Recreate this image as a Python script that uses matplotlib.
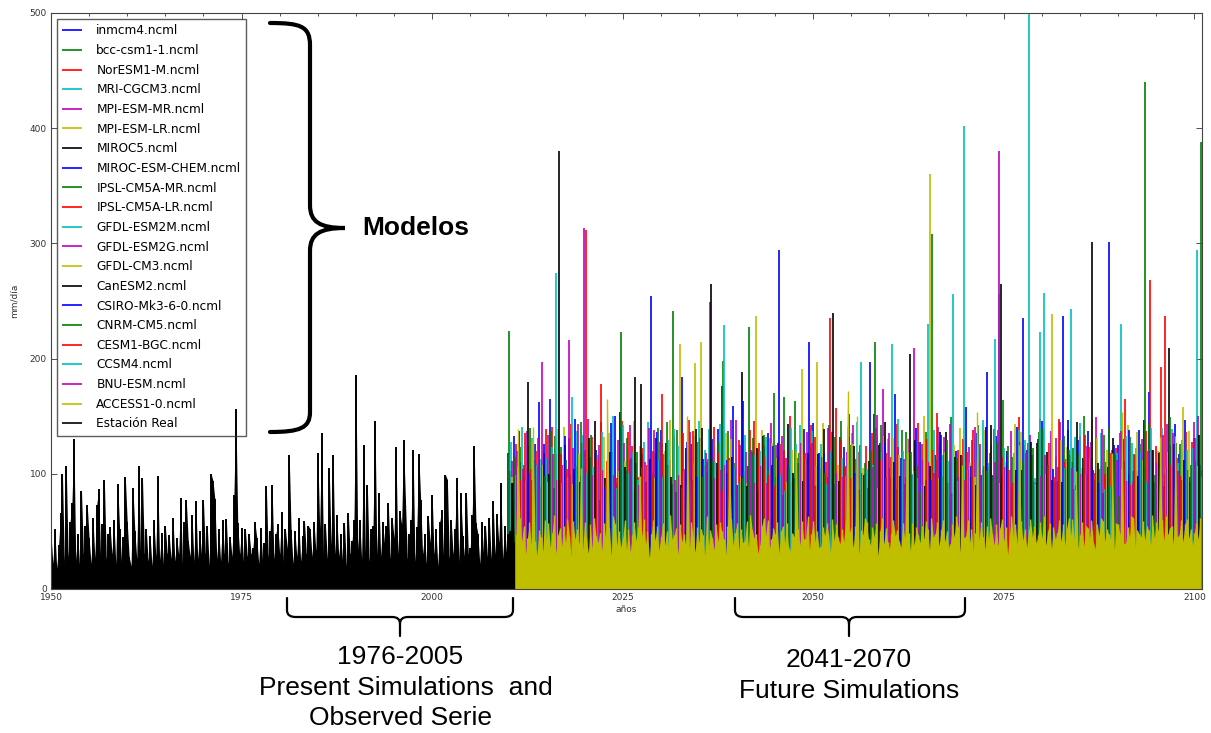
import matplotlib
matplotlib.use("Agg")
import matplotlib.pyplot as plt
from matplotlib.path import Path
from matplotlib.patches import PathPatch
from matplotlib.ticker import MultipleLocator

# model names in legend order, classic bgrcmyk colour cycle
model_names = ["inmcm4.ncml", "bcc-csm1-1.ncml", "NorESM1-M.ncml", "MRI-CGCM3.ncml",
               "MPI-ESM-MR.ncml", "MPI-ESM-LR.ncml", "MIROC5.ncml", "MIROC-ESM-CHEM.ncml",
               "IPSL-CM5A-MR.ncml", "IPSL-CM5A-LR.ncml", "GFDL-ESM2M.ncml", "GFDL-ESM2G.ncml",
               "GFDL-CM3.ncml", "CanESM2.ncml", "CSIRO-Mk3-6-0.ncml", "CNRM-CM5.ncml",
               "CESM1-BGC.ncml", "CCSM4.ncml", "BNU-ESM.ncml", "ACCESS1-0.ncml"]
model_colors = ["b", "g", "r", "c", "m", "y", "k"] * 3

# model peaks (mm/dia), one value every 2 years from 2010 to 2100
inmcm4 = [118, 96, 162, 88, 131, 104, 77, 150, 112, 93, 138, 84, 126, 101, 176, 90, 119, 135, 82, 109, 144, 97, 123,
          86, 152, 105, 91, 128, 116, 79, 158, 99, 133, 87, 121, 146, 94, 110, 137, 83, 125, 102, 171, 89, 117, 131]
bcc_csm1_1 = [224, 108, 87, 133, 99, 121, 145, 92, 114, 80, 127, 138, 95, 110, 198, 86, 131, 103, 167, 118, 90, 142, 107,
              125, 214, 97, 136, 84, 112, 149, 101, 93, 128, 115, 88, 139, 106, 122, 95, 134, 81, 117, 143, 100, 126, 111]
noresm1_m = [102, 135, 89, 117, 143, 312, 178, 96, 124, 108, 169, 91, 137, 113, 85, 129, 146, 99, 121, 94, 132, 235, 106,
             88, 140, 115, 97, 126, 153, 83, 119, 104, 138, 92, 127, 111, 148, 87, 123, 100, 135, 116, 268, 237, 98, 131]
mri_cgcm3 = [128, 94, 113, 274, 167, 101, 136, 88, 119, 145, 97, 124, 109, 139, 229, 92, 116, 131, 85, 142, 107, 120, 98,
             197, 134, 213, 111, 90, 126, 256, 103, 147, 256, 118, 520, 257, 95, 132, 114, 87, 230, 122, 140, 106, 129, 294]
mpi_esm_mr = [111, 137, 197, 95, 122, 148, 103, 129, 86, 140, 117, 99, 133, 249, 108, 125, 92, 144, 114, 127, 89, 136, 119,
              101, 151, 96, 130, 112, 141, 93, 123, 107, 380, 98, 134, 116, 145, 90, 128, 110, 137, 102, 121, 143, 95, 150]
mpi_esm_lr = [97, 124, 108, 139, 91, 115, 132, 102, 146, 87, 120, 213, 196, 110, 135, 98, 237, 127, 93, 191, 197, 114, 141,
              105, 88, 131, 118, 150, 96, 125, 109, 138, 92, 143, 113, 100, 129, 86, 147, 121, 104, 136, 95, 119, 158, 107]
miroc5 = [92, 180, 118, 380, 104, 131, 96, 154, 184, 113, 127, 90, 139, 265, 101, 188, 122, 108, 143, 94, 117, 240, 132,
          99, 125, 110, 204, 89, 136, 115, 97, 141, 265, 103, 128, 119, 93, 145, 301, 106, 130, 98, 121, 209, 112, 134]
miroc_esm_chem = [133, 101, 126, 94, 148, 115, 88, 137, 109, 254, 121, 184, 97, 130, 112, 163, 86, 124, 105, 139, 118, 91,
                  152, 100, 127, 169, 113, 95, 134, 120, 107, 188, 99, 141, 116, 90, 237, 129, 103, 301, 111, 138, 92, 125, 147, 108]
ipsl_cm5a_mr = [115, 140, 98, 123, 107, 134, 92, 223, 119, 101, 145, 88, 128, 111, 137, 96, 121, 170, 104, 116, 93, 132,
                125, 109, 142, 87, 119, 136, 98, 114, 129, 102, 164, 91, 122, 108, 133, 117, 95, 140, 106, 126, 99, 149, 113, 388]
ipsl_cm5a_lr = [126, 104, 139, 117, 90, 132, 111, 146, 97, 120, 108, 135, 93, 141, 114, 102, 127, 89, 150, 118, 105, 157,
                96, 124, 112, 143, 99, 130, 87, 121, 138, 106, 115, 149, 94, 127, 110, 133, 101, 118, 165, 92, 124, 108, 136, 103]
gfdl_esm2m = [99, 131, 114, 92, 137, 106, 123, 142, 95, 118, 129, 101, 146, 110, 88, 134, 120, 97, 140, 113, 126, 91, 135,
              104, 119, 148, 100, 230, 116, 94, 131, 109, 122, 138, 96, 127, 105, 144, 112, 89, 133, 118, 102, 139, 121, 97]
gfdl_esm2g = [120, 95, 134, 108, 143, 99, 116, 127, 90, 138, 112, 104, 131, 96, 147, 119, 107, 125, 93, 136, 115, 101, 142,
              88, 174, 123, 209, 110, 132, 97, 141, 118, 106, 128, 92, 137, 113, 100, 149, 121, 94, 130, 109, 135, 103, 126]
gfdl_cm3 = [106, 128, 93, 141, 117, 100, 135, 111, 124, 96, 147, 119, 214, 103, 130, 92, 138, 114, 121, 99, 144, 108, 126,
            95, 133, 116, 102, 360, 119, 140, 97, 125, 110, 136, 91, 239, 123, 105, 131, 98, 142, 112, 120, 94, 137, 115]
canesm2 = [137, 112, 100, 125, 93, 146, 119, 106, 178, 131, 97, 122, 140, 109, 115, 89, 133, 127, 101, 118, 139, 94, 124,
           111, 145, 98, 129, 107, 136, 116, 90, 142, 120, 103, 127, 95, 138, 114, 109, 131, 100, 147, 118, 126, 93, 121]
csiro_mk3_6_0 = [110, 126, 165, 133, 98, 121, 144, 103, 117, 136, 91, 128, 113, 139, 159, 107, 124, 294, 96, 214, 118, 132,
                 101, 197, 127, 114, 140, 95, 122, 109, 135, 99, 116, 235, 130, 104, 147, 112, 92, 125, 138, 106, 119, 143, 97, 129]
cnrm_cm5 = [123, 99, 137, 112, 145, 94, 119, 131, 106, 140, 241, 116, 97, 128, 109, 227, 134, 92, 163, 125, 101, 146, 113,
            120, 96, 138, 107, 308, 129, 115, 142, 98, 124, 111, 136, 93, 121, 150, 104, 117, 132, 440, 100, 127, 108, 139]
cesm1_bgc = [95, 120, 141, 104, 127, 113, 98, 136, 122, 91, 133, 147, 108, 119, 102, 138, 115, 126, 94, 142, 110, 129, 97,
             135, 118, 105, 144, 121, 92, 130, 111, 139, 103, 125, 148, 97, 116, 134, 107, 122, 90, 137, 193, 114, 128, 101]
ccsm4 = [141, 108, 123, 97, 134, 116, 150, 101, 128, 112, 139, 94, 121, 143, 105, 117, 132, 99, 126, 137, 91, 114, 145,
         108, 130, 120, 96, 138, 111, 402, 124, 217, 103, 129, 223, 115, 243, 100, 135, 118, 127, 93, 140, 109, 122, 133]
bnu_esm = [104, 131, 117, 216, 313, 125, 99, 142, 110, 128, 95, 136, 118, 103, 147, 121, 92, 133, 114, 127, 140, 97, 119,
           106, 135, 113, 128, 101, 143, 95, 126, 110, 137, 118, 98, 131, 105, 124, 139, 112, 93, 120, 134, 102, 145, 115]

# ACCESS1-0, four values per year from 2011 to 2100
access1_0 = [
    48, 139, 62, 41, 55, 30, 44, 58, 38, 141, 42, 29, 51, 45, 33, 60, 42, 57, 36, 49,
    64, 31, 47, 53, 37, 55, 40, 61, 46, 28, 59, 43, 52, 39, 105, 34, 58, 44, 31, 56,
    35, 62, 46, 40, 49, 33, 57, 45, 165, 53, 29, 63, 56, 38, 50, 36, 44, 60, 34, 52,
    32, 47, 58, 42, 54, 98, 45, 61, 39, 50, 27, 48, 60, 42, 55, 33, 45, 57, 38, 50,
    36, 64, 43, 47, 53, 30, 56, 41, 48, 39, 150, 35, 58, 45, 32, 54, 40, 52, 47, 29,
    63, 37, 51, 44, 34, 56, 41, 58, 50, 43, 30, 55, 112, 61, 38, 49, 57, 33, 52, 40,
    42, 59, 36, 64, 51, 44, 48, 31, 38, 55, 62, 46, 60, 35, 43, 53, 47, 58, 31, 50,
    55, 40, 57, 37, 33, 49, 45, 120, 52, 38, 59, 43, 44, 63, 34, 48, 59, 41, 50, 36,
    37, 54, 46, 57, 48, 31, 61, 42, 56, 45, 39, 52, 41, 60, 172, 49, 53, 36, 55, 150,
    30, 51, 47, 62, 58, 43, 38, 54, 45, 57, 29, 50, 62, 39, 53, 41, 35, 48, 60, 46,
    51, 42, 36, 57, 44, 131, 49, 33, 57, 38, 54, 47, 40, 55, 43, 59, 52, 34, 62, 45,
    48, 58, 37, 51, 60, 41, 50, 36, 39, 56, 45, 63, 54, 32, 108, 44, 46, 60, 40, 52,
    33, 49, 154, 42, 58, 45, 35, 55, 43, 62, 48, 38, 56, 37, 53, 61, 41, 54, 30, 47,
    63, 44, 56, 39, 125, 59, 42, 52, 36, 51, 61, 45, 55, 40, 47, 58, 44, 63, 38, 50,
    57, 35, 54, 43, 49, 60, 41, 56, 38, 53, 62, 46, 61, 42, 102, 35, 47, 58, 37, 55,
    53, 44, 60, 40, 35, 56, 46, 62, 59, 41, 52, 48, 43, 118, 34, 57, 56, 47, 154, 39,
    40, 54, 45, 63, 62, 36, 51, 48, 45, 59, 42, 55, 51, 38, 64, 44, 58, 50, 132, 60,
    42, 63, 47, 53, 55, 39, 133, 45, 47, 60, 41, 56, 61, 44, 52, 38, 49, 57, 43, 62,
]

# Estacion Real, four values per year from 1950 to 2010
estacion_real = [
    47, 22, 52, 18, 38, 66, 100, 24, 107, 28, 58, 75, 130, 25, 48, 20, 85, 30, 55, 73,
    44, 22, 62, 27, 73, 87, 28, 56, 95, 26, 48, 54, 30, 60, 22, 91, 52, 24, 45, 97,
    58, 28, 20, 88, 50, 26, 107, 30, 96, 30, 52, 24, 46, 20, 60, 28, 98, 25, 49, 22,
    55, 30, 47, 26, 62, 24, 44, 30, 79, 22, 58, 77, 42, 28, 64, 24, 76, 26, 50, 30,
    77, 30, 55, 20, 100, 94, 78, 26, 52, 24, 60, 30, 61, 22, 45, 28, 82, 156, 57, 30,
    53, 24, 52, 28, 48, 30, 36, 58, 44, 22, 53, 25, 40, 89, 28, 50, 90, 26, 48, 56,
    30, 67, 24, 52, 35, 116, 51, 22, 50, 28, 62, 24, 46, 59, 30, 55, 52, 28, 58, 33,
    118, 52, 135, 30, 56, 26, 105, 38, 116, 30, 64, 28, 48, 24, 57, 20, 66, 30, 42, 60,
    186, 35, 60, 26, 125, 32, 90, 24, 52, 55, 146, 30, 83, 28, 58, 40, 55, 75, 26, 62,
    44, 123, 30, 68, 56, 129, 77, 26, 48, 60, 121, 24, 54, 117, 77, 30, 48, 22, 63, 40,
    82, 30, 52, 20, 58, 69, 28, 99, 95, 26, 60, 30, 52, 96, 24, 83, 46, 28, 83, 30,
    36, 64, 124, 57, 48, 22, 58, 30, 55, 28, 62, 26, 76, 30, 65, 40, 92, 26, 55, 32,
    48, 50, 92, 40,
]

model_series = [inmcm4, bcc_csm1_1, noresm1_m, mri_cgcm3, mpi_esm_mr, mpi_esm_lr, miroc5,
                miroc_esm_chem, ipsl_cm5a_mr, ipsl_cm5a_lr, gfdl_esm2m, gfdl_esm2g, gfdl_cm3,
                canesm2, csiro_mk3_6_0, cnrm_cm5, cesm1_bgc, ccsm4, bnu_esm]

W, H = 1211, 733
fig = plt.figure(figsize=(W / 100, H / 100), dpi=100)
ax = fig.add_axes([51 / W, 1 - 589 / H, (1202 - 51) / W, (589 - 13) / H])

handles = []
n = len(model_series)
for i, vals in enumerate(model_series):
    xs = [2010 + 2 * k + 2.0 * i / n for k in range(len(vals))]
    h = ax.vlines(xs, 0, vals, colors=model_colors[i], linewidth=1.2, label=model_names[i],
                  zorder=2)
    handles.append(h)

# ACCESS1-0 drawn last among the models: jagged filled floor plus its spikes
xs = [2011 + j * 0.25 for j in range(len(access1_0))]
ax.fill_between(xs, 0, access1_0, color=model_colors[19], linewidth=0, zorder=3)
handles.append(ax.vlines(xs, 0, access1_0, colors=model_colors[19], linewidth=1.0,
                         label=model_names[19], zorder=3))

# observed station
xs = [1950 + j * 0.25 for j in range(len(estacion_real))]
ax.fill_between(xs, 0, estacion_real, color="k", linewidth=0, zorder=4)
handles.append(ax.vlines(xs, 0, estacion_real, colors="k", linewidth=1.4, label="Estación Real",
                         zorder=4))

ax.set_xlim(1950, 2101)
ax.set_ylim(0, 500)
ax.xaxis.set_major_locator(MultipleLocator(25))
ax.xaxis.set_minor_locator(MultipleLocator(5))
ax.yaxis.set_major_locator(MultipleLocator(100))
ax.tick_params(which="both", direction="in", top=True, right=True, width=0.6, colors="#333333")
ax.tick_params(which="major", length=4, labelsize=6.5, pad=3)
ax.tick_params(which="minor", length=2)
for s in ax.spines.values():
    s.set_color("#444444")
    s.set_zorder(6)
ax.set_xlabel("años", fontsize=6.5, color="#333333", labelpad=2)
ax.set_ylabel("mm/día", fontsize=6.5, color="#333333", labelpad=8)

leg = ax.legend(handles=handles, loc="upper left", fontsize=8.7, fancybox=False,
                handlelength=1.6, labelspacing=0.55, borderpad=0.45, handletextpad=1.2,
                borderaxespad=0.5)
leg.get_frame().set_facecolor("none")
leg.get_frame().set_edgecolor("#333333")
leg.set_zorder(7)
for line in leg.get_lines():
    line.set_linewidth(1.2)


def fig_path(verts, codes, lw):
    pts = [(x / W, 1 - y / H) for x, y in verts]
    patch = PathPatch(Path(pts, codes), transform=fig.transFigure, facecolor="none",
                      edgecolor="black", linewidth=lw, clip_on=False, capstyle="round")
    fig.add_artist(patch)


M, L, C = Path.MOVETO, Path.LINETO, Path.CURVE4

# brace next to the legend
fig_path([(270, 23), (300, 23), (310, 26), (310, 45), (310, 205), (310, 222), (320, 228), (345, 228),
          (320, 228), (310, 234), (310, 251), (310, 412), (310, 428), (300, 432), (270, 432)],
         [M, C, C, C, L, C, C, C, C, C, C, L, C, C, C], 3.0)


def under_brace(x0, xm, x1):
    fig_path([(x0, 598), (x0, 610), (x0, 615), (x0 + 3, 617), (x0 + 9, 617), (xm - 8, 617),
              (xm - 3, 617), (xm, 619), (xm, 624), (xm, 636)],
             [M, L, C, C, C, L, C, C, C, L], 1.6)
    fig_path([(xm, 624), (xm, 619), (xm + 3, 617), (xm + 8, 617), (x1 - 9, 617), (x1 - 3, 617),
              (x1, 615), (x1, 610), (x1, 598)],
             [M, C, C, C, L, C, C, C, L], 1.6)


under_brace(287, 400, 513)
under_brace(735, 849, 965)

sans = ["Liberation Sans", "DejaVu Sans"]
fig.text(362 / W, 1 - 228 / H, "Modelos", ha="left", va="center", fontsize=19,
         fontweight="bold", family=sans)
for txt, x, y in [("1976-2005", 400, 657), ("Present Simulations  and", 406, 688),
                  ("Observed Serie", 400, 718), ("2041-2070", 849, 660),
                  ("Future Simulations", 849, 691)]:
    fig.text(x / W, 1 - y / H, txt, ha="center", va="center", fontsize=19, family=sans)

fig.savefig("out.png", dpi=100, facecolor="white")
